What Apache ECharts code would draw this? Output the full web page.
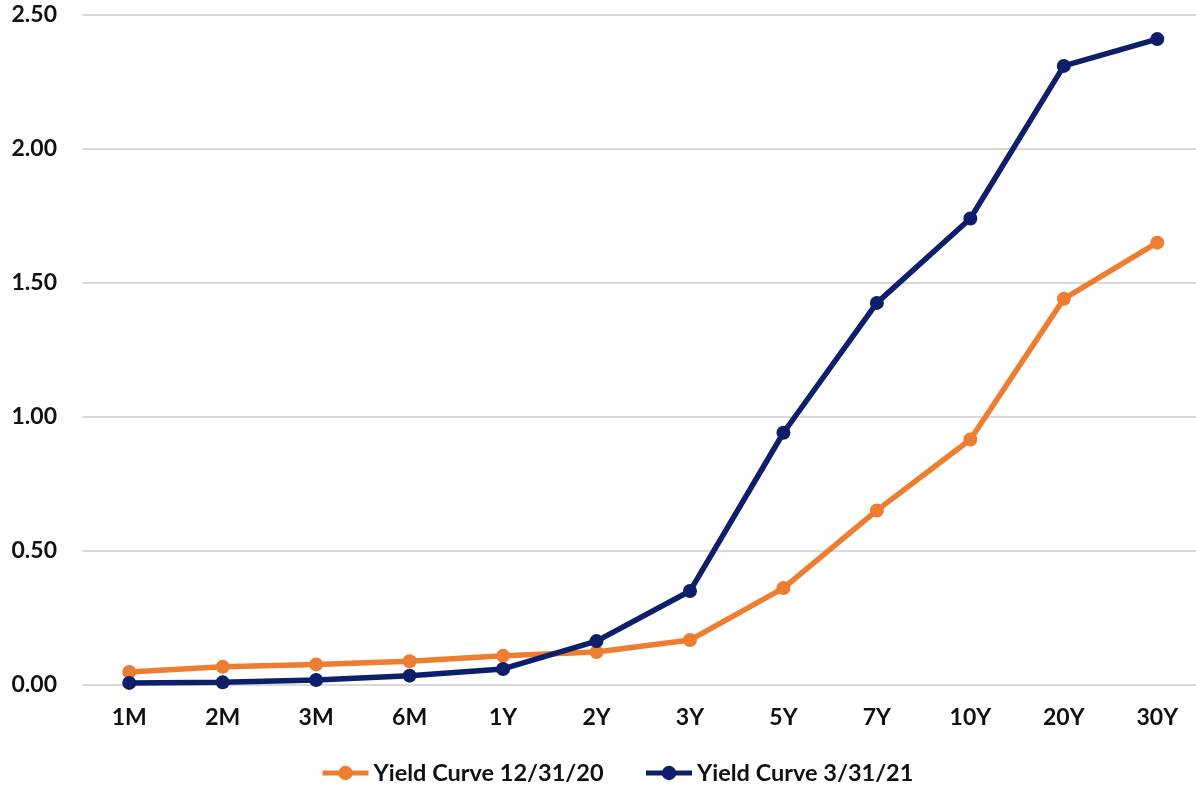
<!DOCTYPE html>
<html><head><meta charset="utf-8">
<script src="https://cdn.jsdelivr.net/npm/echarts@6/dist/echarts.min.js"></script>
<style>html,body{margin:0;padding:0;background:#fff;overflow:hidden}#c{width:1204px;height:786px}</style>
</head><body><div id="c"></div>
<script>
const categories = ['1M','2M','3M','6M','1Y','2Y','3Y','5Y','7Y','10Y','20Y','30Y'];
const yc1231 = [0.047,0.066,0.075,0.087,0.107,0.121,0.166,0.36,0.65,0.915,1.44,1.65];
const yc0331 = [0.006,0.008,0.017,0.033,0.058,0.162,0.349,0.94,1.425,1.74,2.31,2.41];
const seriesNames = ['Yield Curve 12/31/20','Yield Curve 3/31/21'];
const font = 'Lato, "Open Sans", sans-serif';
const chart = echarts.init(document.getElementById('c'));
chart.setOption({
  animation:false,
  grid:{left:82.5,right:0,top:15,bottom:101.5,containLabel:false},
  legend:{top:761,left:320,padding:0,itemWidth:46,itemHeight:18,itemGap:40,
    lineStyle:{width:5},
    textStyle:{fontFamily:font,fontWeight:'bold',fontSize:23.5,color:'#111'}},
  xAxis:{type:'category',data:categories,boundaryGap:true,
    axisLine:{show:false},axisTick:{show:false},
    axisLabel:{fontFamily:font,fontWeight:'bold',fontSize:23,color:'#111',margin:22}},
  yAxis:{type:'value',min:0,max:2.5,interval:0.5,
    axisLine:{show:false},axisTick:{show:false},
    splitLine:{lineStyle:{color:'#d9d9d9',width:2}},
    axisLabel:{fontFamily:font,fontWeight:'bold',fontSize:23,color:'#111',margin:25.5,
      formatter:v=>v.toFixed(2)}},
  series:[
    {name:seriesNames[0],type:'line',data:yc1231,symbol:'circle',symbolSize:14,
      lineStyle:{width:5.5,color:'#ED7D31'},itemStyle:{color:'#ED7D31'}},
    {name:seriesNames[1],type:'line',data:yc0331,symbol:'circle',symbolSize:14,
      lineStyle:{width:5.5,color:'#0D1F6B'},itemStyle:{color:'#0D1F6B'}}
  ]
});
</script></body></html>
